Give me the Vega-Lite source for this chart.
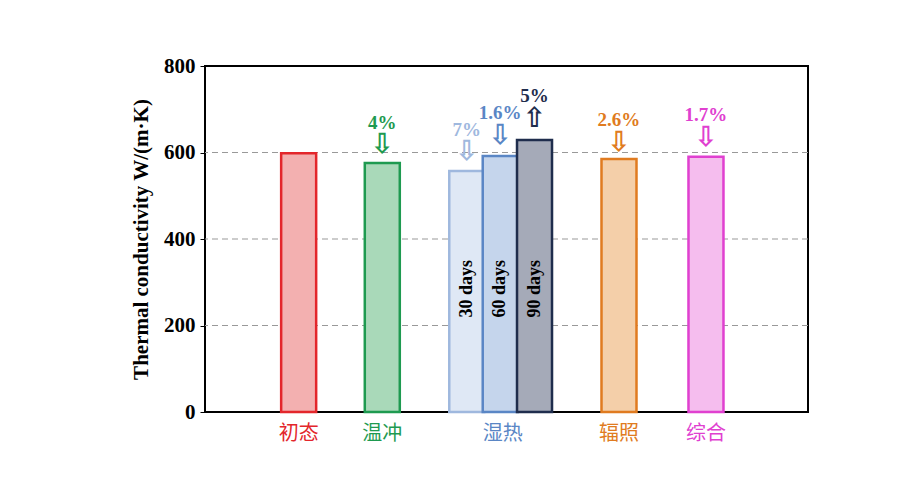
{
"$schema":"https://vega.github.io/schema/vega-lite/v6.json",
"width":603,"height":346,
"autosize":{"type":"none"},
"padding":{"left":205,"top":66,"right":103,"bottom":77},
"background":"white",
"config":{"view":{"stroke":"black","strokeWidth":2},"font":"Liberation Serif"},
"datasets":{
"bars":[
{"name":"初态","pos":1.06,"v":598,"c":"#e3262b","fill":"#f3b0b0"},
{"name":"温冲","pos":2.06,"v":576,"c":"#1e9a50","fill":"#a9d9b9"},
{"name":"30 days","pos":3.07,"v":557,"c":"#9fb8de","fill":"#dfe8f5"},
{"name":"60 days","pos":3.47,"v":592,"c":"#5a86c5","fill":"#c5d5ec"},
{"name":"90 days","pos":3.88,"v":629,"c":"#1f2d4d","fill":"#a5aab8"},
{"name":"辐照","pos":4.89,"v":585,"c":"#e07b20","fill":"#f4cfa9"},
{"name":"综合","pos":5.93,"v":590,"c":"#e040d0","fill":"#f5bdee"}],
"cats":[
{"name":"初态","pos":1.06,"c":"#e3262b"},
{"name":"温冲","pos":2.06,"c":"#1e9a50"},
{"name":"湿热","pos":3.5,"c":"#5a86c5"},
{"name":"辐照","pos":4.89,"c":"#e07b20"},
{"name":"综合","pos":5.93,"c":"#e040d0"}],
"ann":[
{"pct":"4%","pos":2.06,"ty":668,"ay":617,"arrow":"⇩","c":"#1e9a50"},
{"pct":"7%","pos":3.07,"ty":652,"ay":601,"arrow":"⇩","c":"#9fb8de"},
{"pct":"1.6%","pos":3.47,"ty":691,"ay":638,"arrow":"⇩","c":"#5a86c5"},
{"pct":"5%","pos":3.88,"ty":730,"ay":677,"arrow":"⇧","c":"#1f2d4d"},
{"pct":"2.6%","pos":4.89,"ty":675,"ay":622,"arrow":"⇩","c":"#e07b20"},
{"pct":"1.7%","pos":5.93,"ty":687,"ay":633,"arrow":"⇩","c":"#e040d0"}],
"days":[{"name":"30 days","pos":3.07},{"name":"60 days","pos":3.47},{"name":"90 days","pos":3.88}],
"grid":[{"g":200},{"g":400},{"g":600}]
},
"layer":[
{"data":{"name":"grid"},"mark":{"type":"rule","color":"#999","strokeDash":[6,4],"strokeWidth":1.2},"encoding":{"y":{"field":"g","type":"quantitative","scale":{"domain":[0,800],"nice":false}}}},
{"data":{"name":"bars"},"mark":{"type":"bar","width":35,"strokeWidth":2.5},
"encoding":{
"x":{"field":"pos","type":"quantitative","scale":{"domain":[0,7.09],"nice":false,"zero":false},"axis":null},
"y":{"field":"v","type":"quantitative","scale":{"domain":[0,800],"nice":false},
"axis":{"values":[0,200,400,600,800],"grid":false,"tickSize":5,"tickColor":"black","domain":false,"labelFont":"Liberation Serif","labelFontSize":21,"labelFontWeight":"bold","labelColor":"black","labelPadding":5,
"title":"Thermal conductivity W/(m·K)","titleFont":"Liberation Serif","titleFontSize":21,"titleFontWeight":"bold","titleColor":"black","titlePadding":12}},
"fill":{"field":"fill","type":"nominal","scale":null},
"stroke":{"field":"c","type":"nominal","scale":null}}},
{"mark":{"type":"rule","color":"#e3262b","strokeDash":[6,4],"strokeWidth":2},"encoding":{"y":{"datum":592}}},
{"data":{"name":"days"},"mark":{"type":"text","angle":270,"font":"Liberation Serif","fontSize":18,"fontWeight":"bold","color":"black"},
"encoding":{"x":{"field":"pos","type":"quantitative"},"y":{"datum":285},"text":{"field":"name"}}},
{"data":{"name":"ann"},"mark":{"type":"text","font":"Liberation Serif","fontSize":19,"fontWeight":"bold"},
"encoding":{"x":{"field":"pos","type":"quantitative"},"y":{"field":"ty","type":"quantitative"},"text":{"field":"pct"},"color":{"field":"c","type":"nominal","scale":null}}},
{"data":{"name":"ann"},"mark":{"type":"text","font":"DejaVu Sans","fontSize":28,"fontWeight":"bold"},
"encoding":{"x":{"field":"pos","type":"quantitative"},"y":{"field":"ay","type":"quantitative"},"text":{"field":"arrow"},"color":{"field":"c","type":"nominal","scale":null}}},
{"data":{"name":"cats"},"mark":{"type":"text","font":"Noto Sans CJK SC","fontSize":20,"baseline":"top","dy":12},
"encoding":{"x":{"field":"pos","type":"quantitative"},"y":{"datum":0},"text":{"field":"name"},"color":{"field":"c","type":"nominal","scale":null}}}
]
}
